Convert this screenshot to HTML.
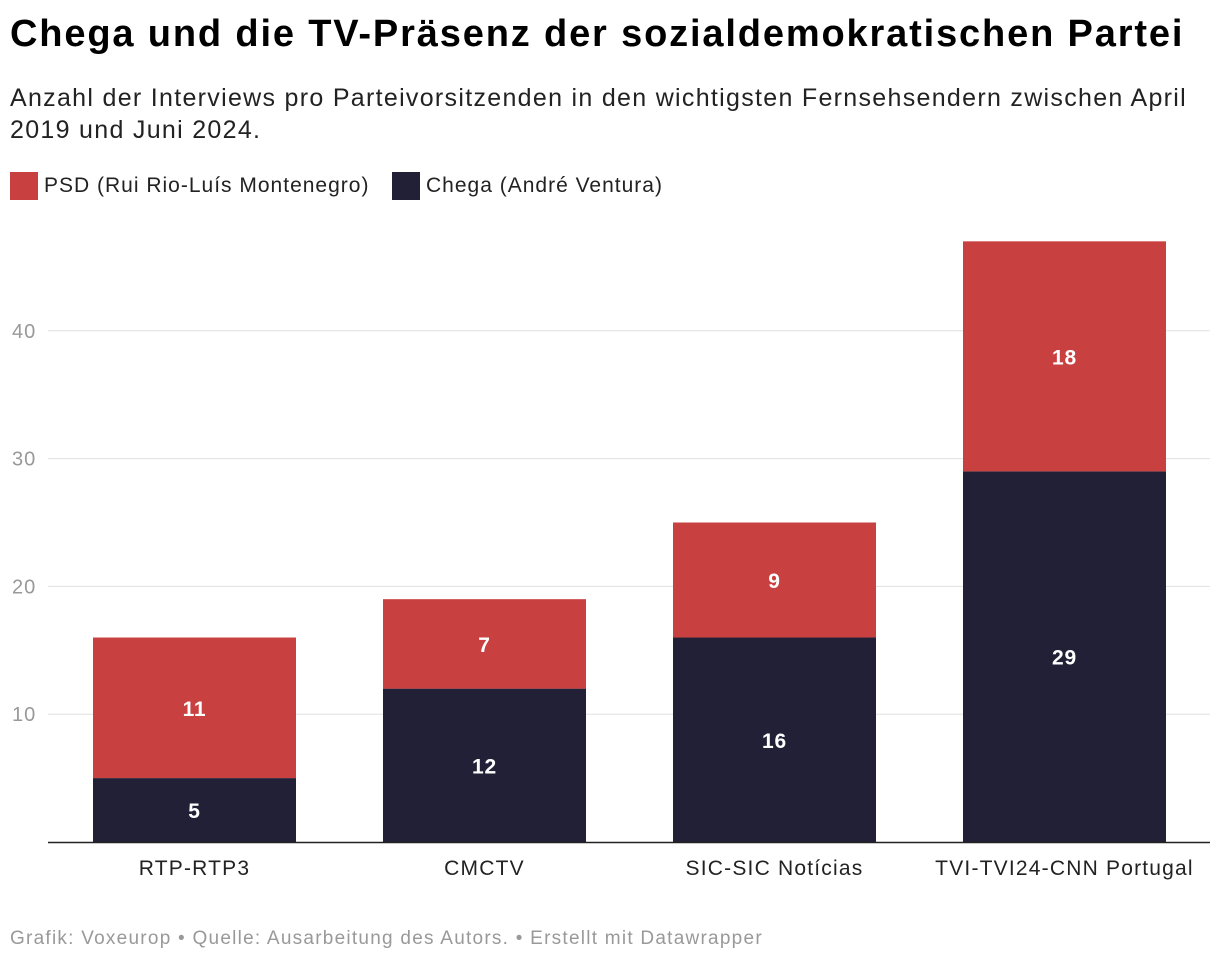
<!DOCTYPE html>
<html><head><meta charset="utf-8"><style>
body{margin:0;width:1220px;height:964px;background:#fff;font-family:"Liberation Sans",sans-serif;overflow:hidden;position:relative}
.t{position:absolute;left:10px;top:13px;font-size:38px;font-weight:bold;color:#000;letter-spacing:1.85px;white-space:nowrap}
.s{position:absolute;left:10px;top:82px;font-size:25px;line-height:32px;color:#222;width:1205px;letter-spacing:1.3px}
.lg{position:absolute;top:172px;font-size:21px;color:#222;display:flex;align-items:center;letter-spacing:1px;white-space:nowrap}
.sw{width:28px;height:28px;margin-right:6px}
.f{position:absolute;left:10px;top:928px;font-size:19px;color:#999;letter-spacing:1.25px;white-space:nowrap}
</style></head><body>
<div class="t">Chega und die TV-Präsenz der sozialdemokratischen Partei</div>
<div class="s">Anzahl der Interviews pro Parteivorsitzenden in den wichtigsten Fernsehsendern zwischen April 2019 und Juni 2024.</div>
<div class="lg" style="left:10px"><div class="sw" style="background:#c94040"></div>PSD (Rui Rio-Luís Montenegro)</div>
<div class="lg" style="left:392px"><div class="sw" style="background:#212036"></div>Chega (André Ventura)</div>
<svg id="c" width="1220" height="964" style="position:absolute;left:0;top:0"></svg>
<div class="f">Grafik: Voxeurop • Quelle: Ausarbeitung des Autors. • Erstellt mit Datawrapper</div>
<script>
const categories=["RTP-RTP3","CMCTV","SIC-SIC Notícias","TVI-TVI24-CNN Portugal"];
const chega=[5,12,16,29];
const psd=[11,7,9,18];
const ticks=[10,20,30,40];
const svg=document.getElementById('c');
const NS="http://www.w3.org/2000/svg";
const y=v=>842-v*12.78;
const x0=i=>93+i*290, bw=203;
function mk(t,a,txt){const e=document.createElementNS(NS,t);for(const k in a)e.setAttribute(k,a[k]);if(txt!=null)e.textContent=txt;svg.appendChild(e);return e;}
ticks.forEach(t=>{
 const g=mk('line',{x1:48,x2:1210,y1:y(t),y2:y(t),stroke:'#e0e0e0','stroke-width':1});
 
 
 const l=mk('text',{x:12,y:y(t)+7,'font-size':20,fill:'#999','font-family':'Liberation Sans','letter-spacing':1},t);
 
 
});
categories.forEach((c,i)=>{
 const b1=mk('rect',{x:x0(i),y:y(chega[i]),width:bw,height:y(0)-y(chega[i]),fill:'#212036'});
 
 
 const b2=mk('rect',{x:x0(i),y:y(chega[i]+psd[i]),width:bw,height:y(chega[i])-y(chega[i]+psd[i]),fill:'#c94040'});
 
 
 const l1=mk('text',{x:x0(i)+bw/2,y:(y(0)+y(chega[i]))/2+8,'font-size':21,'font-weight':'bold',fill:'#fff','text-anchor':'middle','font-family':'Liberation Sans','letter-spacing':0.8},chega[i]);
 
 
 const l2=mk('text',{x:x0(i)+bw/2,y:(y(chega[i])+y(chega[i]+psd[i]))/2+8,'font-size':21,'font-weight':'bold',fill:'#fff','text-anchor':'middle','font-family':'Liberation Sans','letter-spacing':0.8},psd[i]);
 
 
 const xl=mk('text',{x:x0(i)+bw/2,y:875,'font-size':21,fill:'#222','text-anchor':'middle','font-family':'Liberation Sans','letter-spacing':1.2},c);
 
 
});
const ax=mk('line',{x1:48,x2:1210,y1:842.5,y2:842.5,stroke:'#222','stroke-width':1.5});


</script>
</body></html>
